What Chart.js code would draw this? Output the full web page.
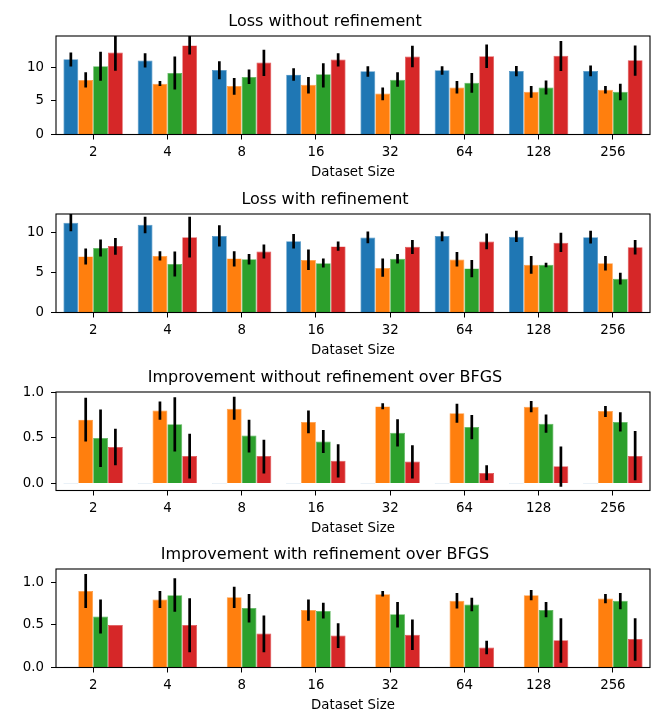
<!DOCTYPE html>
<html>
<head>
<meta charset="utf-8">
<script src="https://cdn.jsdelivr.net/npm/chart.js@4.4.1/dist/chart.umd.min.js"></script>
<style>
  body { margin: 0; background: #fff; }
  #wrap { position: relative; width: 664px; height: 725px; }
  #wrap canvas { position: absolute; left: 0; }
</style>
</head>
<body>
<div id="wrap">
  <canvas id="c1" width="664" height="182" style="top:0px"></canvas>
  <canvas id="c2" width="664" height="182" style="top:178px"></canvas>
  <canvas id="c3" width="664" height="182" style="top:356px"></canvas>
  <canvas id="c4" width="664" height="182" style="top:533px"></canvas>
</div>
<script>
// --- data ---
const sizes = ['2', '4', '8', '16', '32', '64', '128', '256'];

// Loss without refinement
const lnrBlue = [11.2, 11.0, 9.6, 8.9, 9.4, 9.55, 9.45, 9.45];
const lnrBlueErr = [[10.1, 12.2], [9.95, 12.1], [8.2, 10.9], [8.0, 9.85], [8.6, 10.15], [8.9, 10.15], [8.65, 10.2], [8.65, 10.25]];
const lnrOrange = [8.1, 7.55, 7.2, 7.4, 6.1, 7.0, 6.35, 6.65];
const lnrOrangeErr = [[7.0, 9.25], [7.2, 7.95], [5.9, 8.4], [6.1, 8.55], [5.1, 7.0], [6.1, 7.95], [5.45, 7.2], [6.1, 7.2]];
const lnrGreen = [10.15, 9.15, 8.55, 8.95, 8.15, 7.7, 7.0, 6.35];
const lnrGreenErr = [[8.0, 12.3], [6.7, 11.6], [7.5, 9.65], [7.0, 10.6], [7.1, 9.25], [6.2, 9.15], [5.95, 8.05], [5.1, 7.55]];
const lnrRed = [12.2, 13.25, 10.7, 11.15, 11.6, 11.65, 11.7, 11.05];
const lnrRedErr = [[9.5, 14.9], [11.9, 14.9], [8.7, 12.6], [10.1, 12.1], [10.0, 13.2], [9.9, 13.4], [9.45, 13.9], [8.75, 13.25]];

// Loss with refinement
const lrBlue = [11.2, 10.95, 9.55, 8.9, 9.35, 9.55, 9.45, 9.4];
const lrBlueErr = [[10.15, 12.4], [9.9, 11.95], [8.25, 10.9], [8.0, 9.8], [8.65, 10.1], [8.9, 10.1], [8.8, 10.2], [8.6, 10.2]];
const lrOrange = [7.0, 7.05, 6.75, 6.55, 5.55, 6.6, 5.95, 6.15];
const lrOrangeErr = [[6.0, 8.0], [6.5, 7.65], [5.75, 7.65], [5.3, 7.85], [4.45, 6.75], [5.75, 7.55], [4.85, 7.05], [5.25, 7.05]];
const lrGreen = [8.05, 6.05, 6.65, 6.15, 6.7, 5.5, 5.95, 4.2];
const lrGreenErr = [[7.0, 9.1], [4.5, 7.6], [6.0, 7.3], [5.6, 6.75], [6.1, 7.3], [4.4, 6.55], [5.65, 6.2], [3.5, 4.95]];
const lrRed = [8.3, 9.4, 7.6, 8.25, 8.2, 8.85, 8.7, 8.15];
const lrRedErr = [[7.2, 9.3], [6.85, 11.95], [6.75, 8.5], [7.7, 8.85], [7.3, 9.05], [7.9, 9.85], [7.55, 9.95], [7.25, 9.05]];

// Improvement without refinement over BFGS
const inrBlue = [0, 0, 0, 0, 0, 0, 0, 0];
const inrOrange = [0.70, 0.80, 0.82, 0.675, 0.845, 0.77, 0.84, 0.795];
const inrOrangeErr = [[0.46, 0.94], [0.70, 0.90], [0.70, 0.95], [0.55, 0.80], [0.815, 0.88], [0.665, 0.875], [0.78, 0.905], [0.73, 0.85]];
const inrGreen = [0.50, 0.65, 0.525, 0.46, 0.555, 0.62, 0.655, 0.675];
const inrGreenErr = [[0.18, 0.81], [0.35, 0.945], [0.34, 0.70], [0.333, 0.585], [0.405, 0.705], [0.485, 0.75], [0.555, 0.755], [0.57, 0.78]];
const inrRed = [0.40, 0.30, 0.30, 0.25, 0.24, 0.115, 0.19, 0.30];
const inrRedErr = [[0.20, 0.60], [0.055, 0.545], [0.11, 0.48], [0.066, 0.43], [0.055, 0.42], [0.035, 0.20], [-0.035, 0.405], [0.035, 0.575]];

// Improvement with refinement over BFGS
const irBlue = [0, 0, 0, 0, 0, 0, 0, 0];
const irOrange = [0.90, 0.80, 0.825, 0.675, 0.86, 0.785, 0.85, 0.81];
const irOrangeErr = [[0.70, 1.10], [0.70, 0.90], [0.70, 0.95], [0.55, 0.80], [0.835, 0.90], [0.695, 0.875], [0.79, 0.91], [0.755, 0.865]];
const irGreen = [0.60, 0.85, 0.70, 0.665, 0.625, 0.74, 0.675, 0.785];
const irGreenErr = [[0.40, 0.80], [0.655, 1.05], [0.53, 0.865], [0.575, 0.76], [0.47, 0.77], [0.66, 0.82], [0.59, 0.77], [0.685, 0.875]];
const irRed = [0.50, 0.50, 0.40, 0.375, 0.385, 0.235, 0.32, 0.335];
const irRedErr = [[0.50, 0.50], [0.18, 0.815], [0.18, 0.61], [0.23, 0.52], [0.205, 0.565], [0.155, 0.315], [0.055, 0.58], [0.08, 0.58]];

const lossTicks = [0, 5, 10];
const ratioTicks = [0, 0.5, 1.0];

// --- look ---
Chart.defaults.color = '#000';
Chart.defaults.font.family = "'DejaVu Sans', sans-serif";
Chart.defaults.font.size = 13.33;

const fills = ['#1f77b4', '#ff7f0e', '#2ca02c', '#d62728'];
const edges = ['#4c92c3', '#ff9a42', '#56b356', '#de5253'];
const zeroLine = '#e3edf5'; // zero-height bars only show their pale edge

// error bars, clipped to the axes like matplotlib does
const errorBarPlugin = {
    id: 'errorBars',
    afterDatasetsDraw(chart) {
        const ctx = chart.ctx, a = chart.chartArea, ys = chart.scales.y;
        ctx.save();
        ctx.beginPath();
        ctx.rect(a.left, a.top, a.right - a.left, a.bottom - a.top);
        ctx.clip();
        ctx.strokeStyle = '#000';
        ctx.lineWidth = 2.7;
        chart.data.datasets.forEach((ds, i) => {
            if (!ds.errorBars) return;
            chart.getDatasetMeta(i).data.forEach((bar, j) => {
                const e = ds.errorBars[j];
                if (!e || e[0] === e[1]) return;
                ctx.beginPath();
                ctx.moveTo(bar.x, ys.getPixelForValue(e[0]));
                ctx.lineTo(bar.x, ys.getPixelForValue(e[1]));
                ctx.stroke();
            });
        });
        ctx.restore();
    }
};

// full box round the axes (all four spines)
const framePlugin = {
    id: 'frame',
    afterDraw(chart) {
        const ctx = chart.ctx, a = chart.chartArea;
        ctx.save();
        ctx.strokeStyle = '#000';
        ctx.lineWidth = 1.1;
        ctx.strokeRect(a.left, a.top, a.right - a.left, a.bottom - a.top);
        ctx.restore();
    }
};

function makeChart(id, title, series, yMin, yMax, ticks, digits, zeroBlue) {
    const datasets = series.map((s, k) => {
        const flat = zeroBlue && k === 0;
        return {
            data: s[0],
            errorBars: s[1],
            backgroundColor: flat ? zeroLine : fills[k],
            borderColor: flat ? zeroLine : edges[k],
            borderWidth: flat ? 1 : 0.7,
            minBarLength: flat ? 1 : 0,
            categoryPercentage: 0.8,
            barPercentage: 1.0
        };
    });
    return new Chart(document.getElementById(id), {
        type: 'bar',
        data: { labels: sizes, datasets: datasets },
        options: {
            responsive: false,
            animation: false,
            layout: { padding: { left: 0, right: 14, top: 0, bottom: 0 } },
            plugins: {
                legend: { display: false },
                tooltip: { enabled: false },
                title: {
                    display: true, text: title, color: '#000',
                    font: { size: 16, weight: 'normal', lineHeight: 1.2 },
                    padding: { top: 12.2, bottom: 4.6 }
                }
            },
            scales: {
                x: {
                    afterFit: (s) => { s.height = 47.5; },
                    grid: { offset: false, drawOnChartArea: false, drawTicks: true, tickLength: 5, color: '#000', lineWidth: 1 },
                    border: { display: false },
                    ticks: { padding: 5, maxRotation: 0, autoSkip: false },
                    title: { display: true, text: 'Dataset Size', padding: { top: 0, bottom: 1.6 } }
                },
                y: {
                    min: yMin, max: yMax,
                    afterFit: (s) => { s.width = 56; },
                    afterBuildTicks: (s) => { s.ticks = ticks.map(v => ({ value: v })); },
                    grid: { drawOnChartArea: false, drawTicks: true, tickLength: 5, color: '#000', lineWidth: 1 },
                    border: { display: false },
                    ticks: { padding: 7, callback: (v) => Number(v).toFixed(digits) }
                }
            }
        },
        plugins: [errorBarPlugin, framePlugin]
    });
}

makeChart('c1', 'Loss without refinement',
    [[lnrBlue, lnrBlueErr], [lnrOrange, lnrOrangeErr], [lnrGreen, lnrGreenErr], [lnrRed, lnrRedErr]],
    0, 14.65, lossTicks, 0, false);
makeChart('c2', 'Loss with refinement',
    [[lrBlue, lrBlueErr], [lrOrange, lrOrangeErr], [lrGreen, lrGreenErr], [lrRed, lrRedErr]],
    0, 12.29, lossTicks, 0, false);
makeChart('c3', 'Improvement without refinement over BFGS',
    [[inrBlue, null], [inrOrange, inrOrangeErr], [inrGreen, inrGreenErr], [inrRed, inrRedErr]],
    -0.077, 1.003, ratioTicks, 1, true);
makeChart('c4', 'Improvement with refinement over BFGS',
    [[irBlue, null], [irOrange, irOrangeErr], [irGreen, irGreenErr], [irRed, irRedErr]],
    0, 1.158, ratioTicks, 1, true);
</script>
</body>
</html>
